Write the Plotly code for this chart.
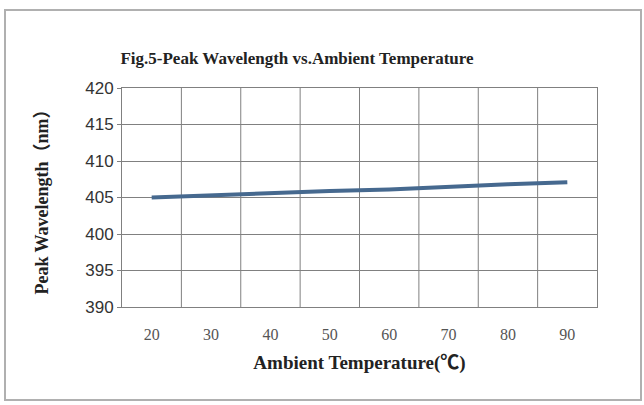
import plotly.graph_objects as go

temperatures = ["20", "30", "40", "50", "60", "70", "80", "90"]
peak_wavelength = [405.0, 405.3, 405.7, 405.9, 406.1, 406.5, 406.8, 407.1]
y_ticks = [390, 395, 400, 405, 410, 415, 420]

W, H = 644, 405
L, R, T, B = 122, 47, 88, 98
pw, ph = W - L - R, H - T - B

def px(x):
    return (x - L) / pw

def py(y):
    return (H - B - y) / ph

fig = go.Figure()
fig.add_trace(go.Scatter(
    x=temperatures, y=peak_wavelength, mode="lines",
    line=dict(color="#46698f", width=4),
    showlegend=False, hoverinfo="skip",
))

serif = "Liberation Serif, Times New Roman, Noto Sans CJK SC, serif"
fig.update_layout(
    width=W, height=H,
    margin=dict(l=L, r=R, t=T, b=B),
    paper_bgcolor="white", plot_bgcolor="white",
    title=dict(text="<b>Fig.5-Peak Wavelength vs.Ambient Temperature</b>",
               x=px(297), xref="paper", xanchor="center",
               y=1 - 58 / H, yanchor="middle",
               font=dict(family=serif, size=17, color="#222")),
    xaxis=dict(
        type="category", categoryarray=temperatures,
        range=[-0.5, len(temperatures) - 0.5],
        showgrid=False, zeroline=False,
        showline=True, linecolor="#808080", linewidth=1, mirror=True,
        ticks="", tickfont=dict(family=serif, size=16, color="#555"),
        ticklabelstandoff=13,
        title=dict(text="<b>Ambient Temperature(℃)</b>",
                   font=dict(family=serif, size=19, color="#222"), standoff=13),
    ),
    yaxis=dict(
        range=[390, 420], tickvals=y_ticks,
        showgrid=True, gridcolor="#808080", gridwidth=1, zeroline=False,
        showline=True, linecolor="#808080", linewidth=1, mirror=True,
        ticks="outside", ticklen=4, tickcolor="#808080",
        tickfont=dict(family="Liberation Sans, Arial, sans-serif", size=17, color="#333"),
        title=dict(text="<b>Peak Wavelength（nm）</b>",
                   font=dict(family=serif, size=18, color="#222"), standoff=31),
    ),
)

# vertical gridlines between categories
for i in range(1, len(temperatures)):
    fig.add_shape(type="line", xref="x", yref="paper",
                  x0=i - 0.5, x1=i - 0.5, y0=0, y1=1,
                  line=dict(color="#808080", width=1), layer="below")

# outer chart frame
fig.add_shape(type="rect", xref="paper", yref="paper",
              x0=px(5), x1=px(641), y0=py(400), y1=py(10),
              line=dict(color="#b0b0b0", width=2), layer="below")

fig.write_html(
    "out.html",
    config={"displayModeBar": False},
    post_script="document.body.style.margin='0';document.body.style.overflow='hidden';",
)
